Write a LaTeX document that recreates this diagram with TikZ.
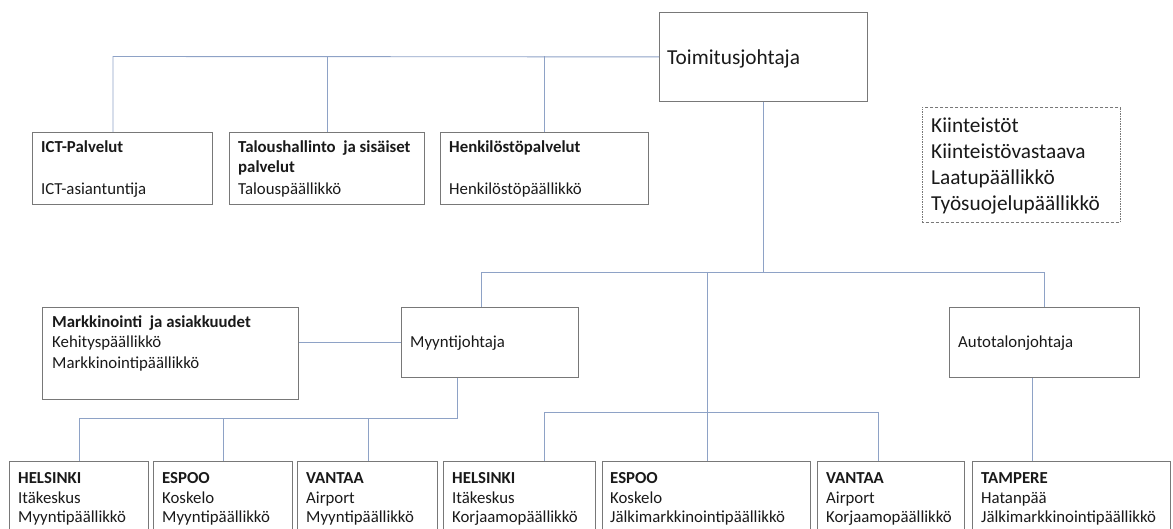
\documentclass[tikz,border=0pt]{standalone}
\usepackage{fontspec}
\setmainfont{Carlito}
\definecolor{linecol}{RGB}{142,162,198}
\definecolor{boxgray}{RGB}{120,120,120}
\definecolor{txt}{RGB}{25,25,25}
\begin{document}
\begin{tikzpicture}[x=1pt,y=-1pt,
  box/.style={draw=boxgray, line width=0.8pt, inner sep=0pt, anchor=north west},
  dbox/.style={draw=boxgray, line width=0.6pt, inner sep=0pt, anchor=north west,
    dash pattern=on 2pt off 1.2pt on 0.6pt off 1.2pt},
  conn/.style={draw=linecol, line width=0.9pt},
  lbl/.style={anchor=base west, inner sep=0pt, text=txt, font=\fontsize{16.8}{20}\selectfont},
  lblb/.style={anchor=base west, inner sep=0pt, text=txt, font=\fontsize{16.8}{20}\selectfont\bfseries},
  big/.style={anchor=base west, inner sep=0pt, text=txt, font=\fontsize{21.3}{26}\selectfont}
]
\useasboundingbox (0,0) rectangle (1173,529);
\clip (0,0) rectangle (1173,529);

% boxes
\node[box, minimum width=208pt, minimum height=89pt] (tj) at (659,12) {};
\node[box, minimum width=180pt, minimum height=72pt] (ict) at (32,132) {};
\node[box, minimum width=195pt, minimum height=72pt] (tal) at (229,132) {};
\node[box, minimum width=208pt, minimum height=72pt] (hen) at (440,132) {};
\node[dbox, minimum width=198pt, minimum height=115pt] (kiin) at (922,107) {};
\node[box, minimum width=256pt, minimum height=92pt] (mark) at (42,307) {};
\node[box, minimum width=177pt, minimum height=70pt] (myy) at (401,307) {};
\node[box, minimum width=190pt, minimum height=70pt] (auto) at (949,307) {};
\node[box, minimum width=139pt, minimum height=90pt] (h1) at (9,461) {};
\node[box, minimum width=139pt, minimum height=90pt] (e1) at (153,461) {};
\node[box, minimum width=140pt, minimum height=90pt] (v1) at (297,461) {};
\node[box, minimum width=152pt, minimum height=90pt] (h2) at (443,461) {};
\node[box, minimum width=208pt, minimum height=90pt] (e2) at (602,461) {};
\node[box, minimum width=147pt, minimum height=90pt] (v2) at (817,461) {};
\node[box, minimum width=198pt, minimum height=90pt] (ta) at (972,461) {};

% connector coordinates
\coordinate (ct1) at (113,56.5);
\coordinate (ct2) at (327,56.5);
\coordinate (ct3) at (544,56.5);
\coordinate (hL) at (481,272);
\coordinate (hM) at (707,272);
\coordinate (hR) at (1044,272);
\coordinate (mb) at (457,418);
\coordinate (b1) at (79,418);
\coordinate (b2) at (223,418);
\coordinate (b3) at (368,418);
\coordinate (c1) at (544,412);
\coordinate (c2) at (878,412);
\coordinate (ca) at (1032,420);

% connectors
\draw[conn] (tj.west) -- (ct1) -- (ct1 |- ict.north);
\draw[conn] (ct2) -- (ct2 |- tal.north);
\draw[conn] (ct3) -- (ct3 |- hen.north);
\draw[conn] (tj.south) -- (tj.south |- hM);
\draw[conn] (hL |- myy.north) -- (hL) -- (hR) -- (hR |- auto.north);
\draw[conn] (hM) -- (hM |- e2.north);
\draw[conn] (myy.west) -- (myy.west -| mark.east);
\draw[conn] (mb |- myy.south) -- (mb) -- (b1) -- (b1 |- h1.north);
\draw[conn] (b2) -- (b2 |- e1.north);
\draw[conn] (b3) -- (b3 |- v1.north);
\draw[conn] (c1 |- h2.north) -- (c1) -- (c2) -- (c2 |- v2.north);
\draw[conn] (ca |- auto.south) -- (ca |- ta.north);

% texts
\node[big] (tjT) at (667,65) {Toimitusjohtaja};

\node[lblb] (ictA) at (41,153) {ICT-Palvelut};
\node[lbl] (ictB) at (41,195) {ICT-asiantuntija};

\node[lblb] (talA) at (238,153) {Taloushallinto~ ja sisäiset};
\node[lblb] (talB) at (238,173) {palvelut};
\node[lbl] (talC) at (238,195) {Talouspäällikkö};

\node[lblb] (henA) at (449,153) {Henkilöstöpalvelut};
\node[lbl] (henB) at (449,195) {Henkilöstöpäällikkö};

\node[big] (kiA) at (931,132.7) {Kiinteistöt};
\node[big] (kiB) at (931,159) {Kiinteistövastaava};
\node[big] (kiC) at (931,185) {Laatupäällikkö};
\node[big] (kiD) at (931,211) {Työsuojelupäällikkö};

\node[lblb] (maA) at (52,327.3) {Markkinointi~ ja asiakkuudet};
\node[lbl] (maB) at (52,347.5) {Kehityspäällikkö};
\node[lbl] (maC) at (52,368) {Markkinointipäällikkö};

\node[lbl] (myT) at (410,347.3) {Myyntijohtaja};
\node[lbl] (auT) at (958,347.7) {Autotalonjohtaja};

\node[lblb] (h1A) at (18,483.3) {HELSINKI};
\node[lbl] (h1B) at (18,503.3) {Itäkeskus};
\node[lbl] (h1C) at (18,522.7) {Myyntipäällikkö};

\node[lblb] (e1A) at (162,483.3) {ESPOO};
\node[lbl] (e1B) at (162,503.3) {Koskelo};
\node[lbl] (e1C) at (162,522.7) {Myyntipäällikkö};

\node[lblb] (v1A) at (306,483.3) {VANTAA};
\node[lbl] (v1B) at (306,503.3) {Airport};
\node[lbl] (v1C) at (306,522.7) {Myyntipäällikkö};

\node[lblb] (h2A) at (452,483.3) {HELSINKI};
\node[lbl] (h2B) at (452,503.3) {Itäkeskus};
\node[lbl] (h2C) at (452,522.7) {Korjaamopäällikkö};

\node[lblb] (e2A) at (610,483.3) {ESPOO};
\node[lbl] (e2B) at (610,503.3) {Koskelo};
\node[lbl] (e2C) at (610,522.7) {Jälkimarkkinointipäällikkö};

\node[lblb] (v2A) at (826,483.3) {VANTAA};
\node[lbl] (v2B) at (826,503.3) {Airport};
\node[lbl] (v2C) at (826,522.7) {Korjaamopäällikkö};

\node[lblb] (taA) at (981,483.3) {TAMPERE};
\node[lbl] (taB) at (981,503.3) {Hatanpää};
\node[lbl] (taC) at (981,522.7) {Jälkimarkkinointipäällikkö};
\end{tikzpicture}
\end{document}
